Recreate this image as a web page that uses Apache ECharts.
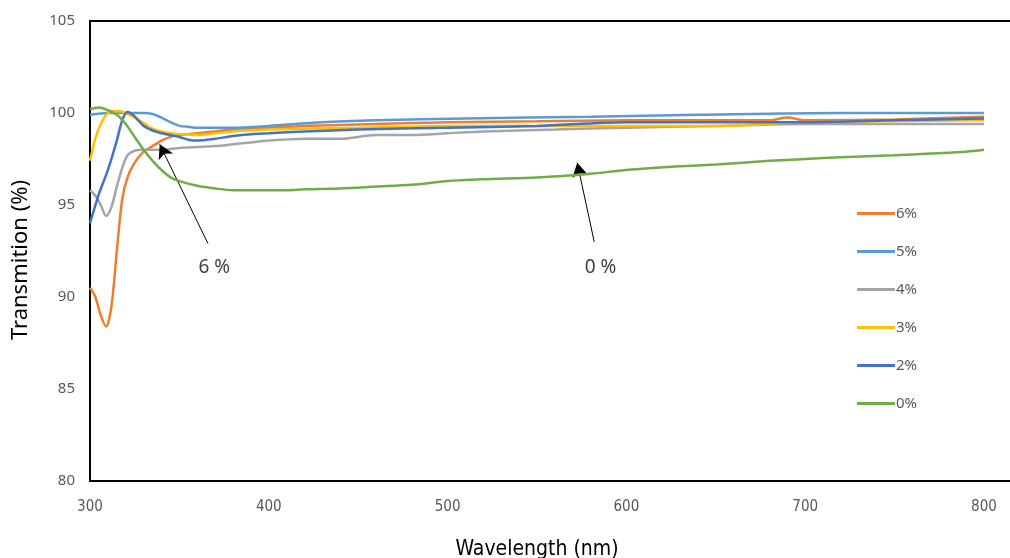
<!DOCTYPE html>
<html>
<head>
<meta charset="utf-8">
<script src="https://cdn.jsdelivr.net/npm/echarts@6/dist/echarts.min.js"></script>
<style>
	html, body { margin: 0; padding: 0; background: #fff; }
	#chart { width: 1010px; height: 558px; }
</style>
</head>
<body>
<div id="chart"></div>
<script>
// wavelength (nm) and transmission (%)
var names = ['6%', '5%', '4%', '3%', '2%', '0%'];
var colors = ['#ED7D31', '#5B9BD5', '#A5A5A5', '#FFC000', '#4472C4', '#70AD47'];

var wl6 = [300, 303, 306, 309, 312, 315, 318, 321, 325, 330, 335, 340, 345, 350, 360, 370, 380, 390, 400, 420, 440, 460, 480, 500, 550, 600, 650, 680, 690, 700, 750, 800];
var t6 = [90.5, 90.0, 89.0, 88.4, 89.5, 92.5, 95.3, 96.5, 97.3, 97.9, 98.2, 98.5, 98.7, 98.8, 98.9, 99.0, 99.1, 99.15, 99.2, 99.3, 99.35, 99.4, 99.45, 99.5, 99.55, 99.6, 99.6, 99.6, 99.75, 99.6, 99.65, 99.8];

var wl5 = [300, 310, 320, 330, 335, 340, 345, 350, 355, 360, 380, 400, 430, 460, 510, 580, 640, 720, 800];
var t5 = [99.9, 100.0, 100.0, 100.0, 99.95, 99.75, 99.5, 99.3, 99.25, 99.2, 99.2, 99.3, 99.5, 99.6, 99.7, 99.8, 99.9, 100.0, 100.0];

var wl4 = [300, 303, 306, 309, 312, 315, 318, 321, 325, 330, 340, 350, 360, 370, 380, 390, 400, 420, 440, 460, 480, 500, 520, 560, 600, 650, 700, 800];
var t4 = [95.8, 95.5, 95.0, 94.4, 94.9, 96.0, 97.0, 97.7, 97.95, 98.0, 98.0, 98.1, 98.15, 98.2, 98.3, 98.4, 98.5, 98.6, 98.6, 98.8, 98.8, 98.9, 99.0, 99.1, 99.2, 99.3, 99.4, 99.4];

var wl3 = [300, 303, 306, 309, 313, 317, 321, 325, 330, 335, 340, 345, 350, 360, 370, 380, 400, 450, 500, 600, 650, 700, 800];
var t3 = [97.4, 98.6, 99.4, 99.9, 100.1, 100.1, 99.95, 99.75, 99.45, 99.15, 99.0, 98.9, 98.85, 98.8, 98.9, 99.0, 99.1, 99.2, 99.3, 99.3, 99.3, 99.5, 99.6];

var wl2 = [300, 305, 310, 315, 318, 321, 324, 327, 330, 335, 340, 345, 350, 355, 360, 370, 380, 390, 400, 420, 450, 500, 550, 600, 650, 700, 750, 800];
var t2 = [94.0, 95.6, 96.9, 98.5, 99.6, 100.05, 99.9, 99.6, 99.3, 99.05, 98.9, 98.8, 98.7, 98.55, 98.5, 98.6, 98.75, 98.85, 98.9, 99.0, 99.1, 99.2, 99.3, 99.5, 99.5, 99.5, 99.6, 99.7];

var wl0 = [300, 305, 310, 315, 320, 325, 330, 335, 340, 345, 350, 360, 370, 380, 400, 410, 420, 440, 460, 480, 500, 520, 550, 580, 600, 630, 650, 680, 700, 720, 750, 770, 790, 800];
var t0 = [100.2, 100.3, 100.15, 99.9, 99.4, 98.7, 98.0, 97.4, 96.9, 96.5, 96.3, 96.05, 95.9, 95.8, 95.8, 95.8, 95.85, 95.9, 96.0, 96.1, 96.3, 96.4, 96.5, 96.7, 96.9, 97.1, 97.2, 97.4, 97.5, 97.6, 97.7, 97.8, 97.9, 98.0];

var xs = [wl6, wl5, wl4, wl3, wl2, wl0];
var ys = [t6, t5, t4, t3, t2, t0];

function pairs(a, b) {
	var out = [];
	for (var i = 0; i < a.length; i++) {
		out.push([a[i], b[i]]);
	}
	return out;
}

var series = [];
for (var i = 0; i < names.length; i++) {
	series.push({
		name: names[i],
		type: 'line',
		smooth: 0.3,
		showSymbol: false,
		data: pairs(xs[i], ys[i]),
		lineStyle: { color: colors[i], width: 2.5 },
		itemStyle: { color: colors[i] },
		z: 2 + i
	});
}

// arrows and their labels
series.push({
	type: 'line',
	data: [],
	silent: true,
	markLine: {
		silent: true,
		symbol: ['none', 'arrow'],
		symbolSize: [12, 14],
		lineStyle: { color: '#000', width: 1, type: 'solid' },
		label: { show: false },
		data: [
			[{ coord: [366, 92.9] }, { coord: [339, 98.3] }],
			[{ coord: [582, 93.0] }, { coord: [572.5, 97.3] }]
		]
	},
	markPoint: {
		silent: true,
		symbol: 'circle',
		symbolSize: 0,
		label: {
			show: true,
			color: '#404040',
			fontSize: 19,
			fontFamily: 'Noto Sans',
			formatter: function(p) { return p.name; }
		},
		data: [
			{ name: '6 %', coord: [369.5, 91.6] },
			{ name: '0 %', coord: [585.5, 91.6] }
		]
	}
});

var chart = echarts.init(document.getElementById('chart'));
var option = {
	animation: false,
	backgroundColor: '#fff',
	grid: { left: 90, right: 26, top: 21, bottom: 77, containLabel: false, outerBoundsMode: 'none' },
	legend: {
		orient: 'vertical',
		left: 852,
		top: 201,
		itemGap: 23,
		itemWidth: 38,
		itemHeight: 3,
		icon: 'rect',
		data: names,
		textStyle: { color: '#595959', fontSize: 15, fontFamily: 'Noto Sans', padding: [0, 0, 0, -4] }
	},
	xAxis: {
		type: 'value',
		min: 300,
		max: 800,
		interval: 100,
		name: 'Wavelength (nm)',
		nameLocation: 'middle',
		nameGap: 58,
		nameTextStyle: { color: '#000', fontSize: 21, fontFamily: 'DejaVu Sans Condensed' },
		axisLine: { show: true, lineStyle: { color: '#000', width: 2 } },
		axisTick: { show: false },
		splitLine: { show: false },
		axisLabel: { color: '#595959', fontSize: 15, margin: 19, fontFamily: 'DejaVu Sans Condensed' }
	},
	yAxis: {
		type: 'value',
		min: 80,
		max: 105,
		interval: 5,
		name: 'Transmition (%)',
		nameLocation: 'middle',
		nameRotate: 90,
		nameGap: 58,
		nameTextStyle: { color: '#000', fontSize: 22, fontFamily: 'Noto Sans', padding: [0, 0, 0, -18] },
		axisLine: { show: true, lineStyle: { color: '#000', width: 2 } },
		axisTick: { show: false },
		splitLine: { show: false },
		axisLabel: { color: '#595959', fontSize: 15, margin: 15, fontFamily: 'Noto Sans' }
	},
	graphic: [
		{ type: 'line', z: 10, shape: { x1: 89, y1: 21, x2: 1010, y2: 21 }, style: { stroke: '#000', lineWidth: 2 } },
		{ type: 'line', z: 10, shape: { x1: 984, y1: 481, x2: 1010, y2: 481 }, style: { stroke: '#000', lineWidth: 2 } }
	],
	series: series
};
chart.setOption(option);
</script>
</body>
</html>
